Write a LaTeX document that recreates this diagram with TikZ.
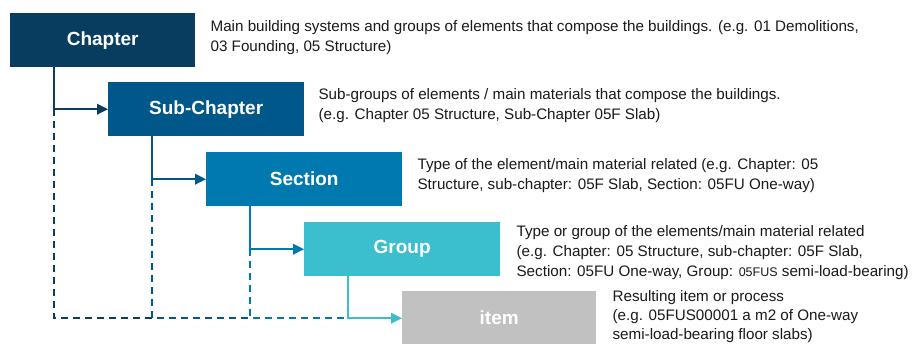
\documentclass[tikz,border=0pt]{standalone}
\usepackage{fontspec}
\setmainfont{Liberation Sans}
\usetikzlibrary{arrows.meta,calc}
\definecolor{cchap}{HTML}{083D5F}
\definecolor{csub}{HTML}{00578A}
\definecolor{csec}{HTML}{0079B0}
\definecolor{cgrp}{HTML}{3BBFCF}
\definecolor{citem}{HTML}{C1C1C1}
\definecolor{textc}{HTML}{1A1A1A}
\begin{document}
\begin{tikzpicture}[x=1pt,y=-1pt,
  box/.style={minimum height=54pt, inner sep=0pt, text=white, anchor=north west,
    font=\fontsize{19}{22}\selectfont\bfseries},
  desc/.style={anchor=west, align=left, inner sep=0pt, text=textc,
    font=\fontsize{15.2}{20}\selectfont},
  link/.style={line width=2.2pt},
  tip/.style={-{Triangle[length=11pt,width=10.5pt]}},
  dashline/.style={line width=2.2pt, dash pattern=on 7pt off 5pt}]
\useasboundingbox[fill=white] (0,0) rectangle (912,344);

\node[box, fill=cchap, minimum width=185pt] (chap) at (10,13) {Chapter};
\node[box, fill=csub, minimum width=196pt] (sub) at (108,82) {Sub-Chapter};
\node[box, fill=csec, minimum width=196pt] (sec) at (206,152) {Section};
\node[box, fill=cgrp, minimum width=196pt] (grp) at (304,222) {Group};
\node[box, fill=citem, minimum width=194pt] (item) at (402,291) {item};

\coordinate (v1) at ($(chap.south west)+(44,0)$);
\coordinate (v2) at ($(sub.south west)+(44,0)$);
\coordinate (v3) at ($(sec.south west)+(44,0)$);
\coordinate (v4) at ($(grp.south west)+(44,0)$);

\draw[dashline, cchap] (v1 |- sub.west) -- (v1 |- item.west) -- (v2 |- item.west);
\draw[dashline, csub] (v2 |- sec.west) -- (v2 |- item.west) -- (v3 |- item.west);
\draw[dashline, csec] (v3 |- grp.west) -- (v3 |- item.west) -- (v4 |- item.west);

\draw[link, cchap, tip] (v1) |- (sub.west);
\draw[link, csub, tip] (v2) |- (sec.west);
\draw[link, csec, tip] (v3) |- (grp.west);
\draw[link, cgrp, tip] (v4) |- (item.west);

\node[desc] (dchap) at ($(chap.east)+(15,-3)$)
  {Main building systems and groups of elements that compose the buildings. (e.g. 01 Demolitions,\\03 Founding, 05 Structure)};
\node[desc] (dsub) at ($(sub.east)+(14,-3.5)$)
  {Sub-groups of elements / main materials that compose the buildings.\\(e.g. Chapter 05 Structure, Sub-Chapter 05F Slab)};
\node[desc] (dsec) at ($(sec.east)+(15,-3.5)$)
  {Type of the element/main material related (e.g. Chapter: 05\\Structure, sub-chapter: 05F Slab, Section: 05FU One-way)};
\node[desc] (dgrp) at ($(grp.east)+(16,3)$)
  {Type or group of the elements/main material related\\(e.g. Chapter: 05 Structure, sub-chapter: 05F Slab,\\Section: 05FU One-way, Group: {\fontsize{12.5}{20}\selectfont 05FUS} semi-load-bearing)};
\node[desc, font=\fontsize{15.2}{19}\selectfont] (ditem) at ($(item.east)+(16,-2)$)
  {Resulting item or process\\(e.g. 05FUS00001 a m2 of One-way\\semi-load-bearing floor slabs)};
\end{tikzpicture}
\end{document}
